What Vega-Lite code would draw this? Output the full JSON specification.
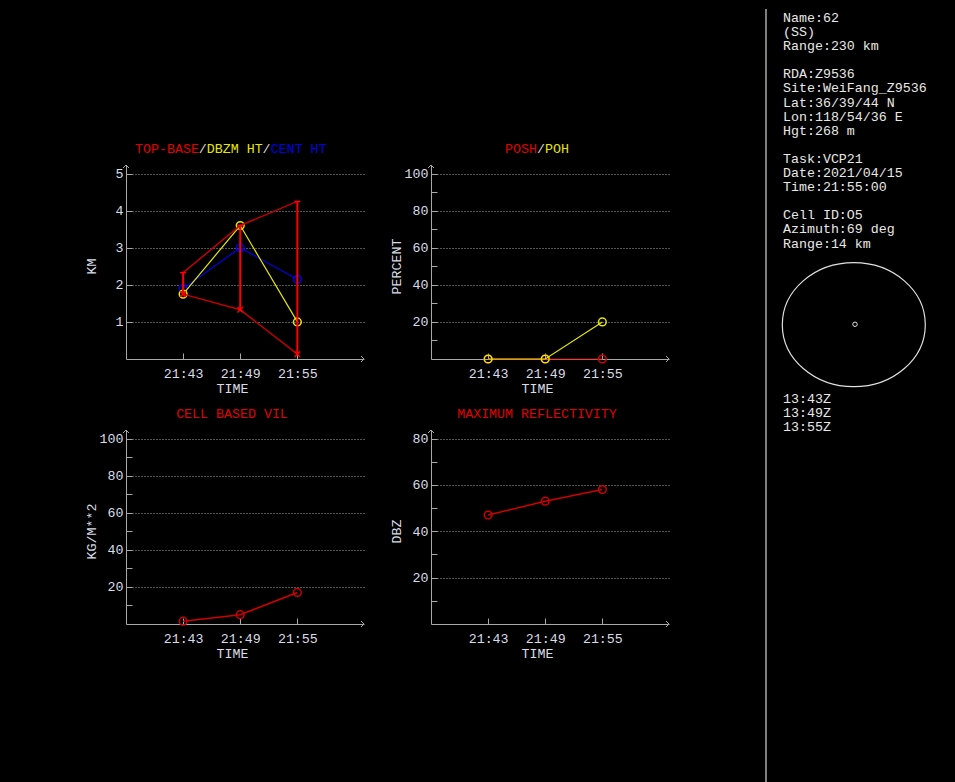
{
  "$schema": "https://vega.github.io/schema/vega-lite/v6.json",
  "background": "black",
  "padding": {"left": 84, "top": 8, "right": 0, "bottom": 0},
  "bounds": "flush",
  "columns": 3,
  "spacing": {"row": 71, "column": 67},
  "datasets": {
    "cells": [
      {"time": "2021-04-15T21:43:00", "top": 2.33, "base": 1.75, "dbzm": 1.75, "cent": 1.9, "posh": 0, "poh": 0, "vil": 1.5, "maxz": 47},
      {"time": "2021-04-15T21:49:00", "top": 3.6, "base": 1.33, "dbzm": 3.6, "cent": 3.0, "posh": 0, "poh": 0, "vil": 5, "maxz": 53},
      {"time": "2021-04-15T21:55:00", "top": 4.25, "base": 0.13, "dbzm": 1.0, "cent": 2.15, "posh": 0, "poh": 20, "vil": 17, "maxz": 58}
    ],
    "report": [
      {"line": 0, "text": "Name:62"},
      {"line": 1, "text": "(SS)"},
      {"line": 2, "text": "Range:230 km"},
      {"line": 4, "text": "RDA:Z9536"},
      {"line": 5, "text": "Site:WeiFang_Z9536"},
      {"line": 6, "text": "Lat:36/39/44 N"},
      {"line": 7, "text": "Lon:118/54/36 E"},
      {"line": 8, "text": "Hgt:268 m"},
      {"line": 10, "text": "Task:VCP21"},
      {"line": 11, "text": "Date:2021/04/15"},
      {"line": 12, "text": "Time:21:55:00"},
      {"line": 14, "text": "Cell ID:O5"},
      {"line": 15, "text": "Azimuth:69 deg"},
      {"line": 16, "text": "Range:14 km"},
      {"line": 27, "text": "13:43Z"},
      {"line": 28, "text": "13:49Z"},
      {"line": 29, "text": "13:55Z"}
    ]
  },
  "config": {
    "view": {"stroke": null},
    "text": {"font": "Liberation Mono", "fontSize": 13.3},
    "axis": {
      "domainColor": "#a8a8a8", "tickColor": "#a8a8a8", "gridColor": "#a8a8a8", "gridDash": [1, 2], "gridWidth": 1,
      "labelFont": "Liberation Mono", "labelFontSize": 13.3, "labelColor": "#d8dce6",
      "titleFont": "Liberation Mono", "titleFontSize": 13.3, "titleColor": "#d8dce6", "titleFontWeight": "normal",
      "tickSize": -6, "labelOverlap": false, "labelFlush": false
    },
    "axisX": {"grid": false, "zindex": 1, "labelPadding": 20, "labelBaseline": "middle", "titleX": 106, "titleY": 29, "titleBaseline": "middle", "titleAlign": "center"},
    "axisY": {"grid": true, "tickCount": 20, "format": "d", "labelPadding": 9, "labelAlign": "right", "labelBaseline": "middle", "titleX": -35, "titleY": 101, "titleBaseline": "middle", "titleAlign": "center", "titleAngle": 270}
  },
  "concat": [
    {
      "width": 238, "height": 194,
      "data": {"name": "cells"},
      "layer": [
        {"mark": {"type": "line", "color": "#0000e6", "strokeWidth": 1.2}, "encoding": {
          "x": {"field": "time", "type": "temporal", "scale": {"nice": false, "domain": [{"year": 2021, "month": 4, "date": 15, "hours": 21, "minutes": 37}, {"year": 2021, "month": 4, "date": 15, "hours": 22, "minutes": 2}]}, "axis": {"title": "TIME", "format": "%H:%M", "values": [{"year": 2021, "month": 4, "date": 15, "hours": 21, "minutes": 43}, {"year": 2021, "month": 4, "date": 15, "hours": 21, "minutes": 49}, {"year": 2021, "month": 4, "date": 15, "hours": 21, "minutes": 55}]}},
          "y": {"field": "cent", "type": "quantitative", "title": "KM", "scale": {"domain": [0, 5.232], "nice": false, "zero": false}, "axis": {"values": [1, 2, 3, 4, 5], "format": "d"}}}},
        {"mark": {"type": "point", "shape": "circle", "size": 60, "color": "#0000e6", "filled": false, "strokeWidth": 1.5, "opacity": 1}, "encoding": {"x": {"field": "time", "type": "temporal", "title": "TIME"}, "y": {"field": "cent", "type": "quantitative", "title": "KM"}}},
        {"mark": {"type": "line", "color": "#e6e600", "strokeWidth": 1.2}, "encoding": {"x": {"field": "time", "type": "temporal", "title": "TIME"}, "y": {"field": "dbzm", "type": "quantitative", "title": "KM"}}},
        {"mark": {"type": "point", "shape": "circle", "size": 60, "color": "#e6e600", "filled": false, "strokeWidth": 1.5, "opacity": 1}, "encoding": {"x": {"field": "time", "type": "temporal", "title": "TIME"}, "y": {"field": "dbzm", "type": "quantitative", "title": "KM"}}},
        {"mark": {"type": "line", "color": "#c00000", "strokeWidth": 1.5}, "encoding": {"x": {"field": "time", "type": "temporal", "title": "TIME"}, "y": {"field": "top", "type": "quantitative", "title": "KM"}}},
        {"mark": {"type": "line", "color": "#c00000", "strokeWidth": 1.5}, "encoding": {"x": {"field": "time", "type": "temporal", "title": "TIME"}, "y": {"field": "base", "type": "quantitative", "title": "KM"}}},
        {"mark": {"type": "rule", "color": "#ff0000", "strokeWidth": 2}, "encoding": {"x": {"field": "time", "type": "temporal", "title": "TIME"}, "y": {"field": "top", "type": "quantitative", "title": "KM"}, "y2": {"field": "base"}}},
        {"mark": {"type": "point", "shape": "stroke", "size": 36, "color": "#ff0000", "strokeWidth": 1.5, "opacity": 1}, "encoding": {"x": {"field": "time", "type": "temporal", "title": "TIME"}, "y": {"field": "top", "type": "quantitative", "title": "KM"}}},
        {"mark": {"type": "point", "shape": "M-1,-1L1,1M-1,1L1,-1", "size": 30, "color": "#ff0000", "filled": false, "strokeWidth": 1.5, "opacity": 1}, "encoding": {"x": {"field": "time", "type": "temporal", "title": "TIME"}, "y": {"field": "base", "type": "quantitative", "title": "KM"}}},
        {"data": {"values": [{}]}, "mark": {"type": "point", "shape": "M-1,-1L0,0L-1,1", "size": 36, "color": "#a8a8a8", "filled": false, "strokeWidth": 1, "opacity": 1}, "encoding": {"x": {"datum": {"year": 2021, "month": 4, "date": 15, "hours": 22, "minutes": 2}, "type": "temporal"}, "y": {"datum": 0, "type": "quantitative"}}},
        {"data": {"values": [{}]}, "mark": {"type": "point", "shape": "M-1,1L0,0L1,1", "size": 36, "color": "#a8a8a8", "filled": false, "strokeWidth": 1, "opacity": 1}, "encoding": {"x": {"datum": {"year": 2021, "month": 4, "date": 15, "hours": 21, "minutes": 37}, "type": "temporal"}, "y": {"datum": 5.232, "type": "quantitative"}}},
        {"data": {"values": [{}]}, "mark": {"type": "text", "text": "TOP-BASE", "color": "#e00000", "align": "left", "baseline": "middle"}, "encoding": {"x": {"datum": {"year": 2021, "month": 4, "date": 15, "hours": 21, "minutes": 37, "seconds": 57}, "type": "temporal"}, "y": {"datum": 5.655, "type": "quantitative"}}},
        {"data": {"values": [{}]}, "mark": {"type": "text", "text": "/", "color": "#d8d8d8", "align": "left", "baseline": "middle"}, "encoding": {"x": {"datum": {"year": 2021, "month": 4, "date": 15, "hours": 21, "minutes": 44, "seconds": 39}, "type": "temporal"}, "y": {"datum": 5.655, "type": "quantitative"}}},
        {"data": {"values": [{}]}, "mark": {"type": "text", "text": "DBZM HT", "color": "#e6e600", "align": "left", "baseline": "middle"}, "encoding": {"x": {"datum": {"year": 2021, "month": 4, "date": 15, "hours": 21, "minutes": 45, "seconds": 29}, "type": "temporal"}, "y": {"datum": 5.655, "type": "quantitative"}}},
        {"data": {"values": [{}]}, "mark": {"type": "text", "text": "/", "color": "#d8d8d8", "align": "left", "baseline": "middle"}, "encoding": {"x": {"datum": {"year": 2021, "month": 4, "date": 15, "hours": 21, "minutes": 51, "seconds": 21}, "type": "temporal"}, "y": {"datum": 5.655, "type": "quantitative"}}},
        {"data": {"values": [{}]}, "mark": {"type": "text", "text": "CENT HT", "color": "#0000e6", "align": "left", "baseline": "middle"}, "encoding": {"x": {"datum": {"year": 2021, "month": 4, "date": 15, "hours": 21, "minutes": 52, "seconds": 12}, "type": "temporal"}, "y": {"datum": 5.655, "type": "quantitative"}}}
      ]
    },
    {
      "width": 238, "height": 194,
      "data": {"name": "cells"},
      "layer": [
        {"mark": {"type": "line", "color": "#d00000", "strokeWidth": 1.2}, "encoding": {
          "x": {"field": "time", "type": "temporal", "scale": {"nice": false, "domain": [{"year": 2021, "month": 4, "date": 15, "hours": 21, "minutes": 37}, {"year": 2021, "month": 4, "date": 15, "hours": 22, "minutes": 2}]}, "axis": {"title": "TIME", "format": "%H:%M", "values": [{"year": 2021, "month": 4, "date": 15, "hours": 21, "minutes": 43}, {"year": 2021, "month": 4, "date": 15, "hours": 21, "minutes": 49}, {"year": 2021, "month": 4, "date": 15, "hours": 21, "minutes": 55}]}},
          "y": {"field": "posh", "type": "quantitative", "title": "PERCENT", "scale": {"domain": [0, 104.64], "nice": false, "zero": false}, "axis": {"values": [10, 20, 30, 40, 50, 60, 70, 80, 90, 100], "labelExpr": "datum.value % 20 === 0 ? datum.label : ''", "gridOpacity": {"condition": {"test": "datum.value % 20 !== 0", "value": 0}, "value": 1}}}}},
        {"mark": {"type": "point", "shape": "circle", "size": 60, "color": "#d00000", "filled": false, "strokeWidth": 1.5, "opacity": 1}, "encoding": {"x": {"field": "time", "type": "temporal", "title": "TIME"}, "y": {"field": "posh", "type": "quantitative", "title": "PERCENT"}}},
        {"mark": {"type": "line", "color": "#e6e600", "strokeWidth": 1.2}, "encoding": {"x": {"field": "time", "type": "temporal", "title": "TIME"}, "y": {"field": "poh", "type": "quantitative", "title": "PERCENT"}}},
        {"mark": {"type": "point", "shape": "circle", "size": 60, "color": "#e6e600", "filled": false, "strokeWidth": 1.5, "opacity": 1}, "encoding": {"x": {"field": "time", "type": "temporal", "title": "TIME"}, "y": {"field": "poh", "type": "quantitative", "title": "PERCENT"}}},
        {"data": {"values": [{}]}, "mark": {"type": "point", "shape": "M-1,-1L0,0L-1,1", "size": 36, "color": "#a8a8a8", "filled": false, "strokeWidth": 1, "opacity": 1}, "encoding": {"x": {"datum": {"year": 2021, "month": 4, "date": 15, "hours": 22, "minutes": 2}, "type": "temporal"}, "y": {"datum": 0, "type": "quantitative"}}},
        {"data": {"values": [{}]}, "mark": {"type": "point", "shape": "M-1,1L0,0L1,1", "size": 36, "color": "#a8a8a8", "filled": false, "strokeWidth": 1, "opacity": 1}, "encoding": {"x": {"datum": {"year": 2021, "month": 4, "date": 15, "hours": 21, "minutes": 37}, "type": "temporal"}, "y": {"datum": 104.64, "type": "quantitative"}}},
        {"data": {"values": [{}]}, "mark": {"type": "text", "text": "POSH", "color": "#e00000", "align": "left", "baseline": "middle"}, "encoding": {"x": {"datum": {"year": 2021, "month": 4, "date": 15, "hours": 21, "minutes": 44, "seconds": 46}, "type": "temporal"}, "y": {"datum": 113.1, "type": "quantitative"}}},
        {"data": {"values": [{}]}, "mark": {"type": "text", "text": "/", "color": "#d8d8d8", "align": "left", "baseline": "middle"}, "encoding": {"x": {"datum": {"year": 2021, "month": 4, "date": 15, "hours": 21, "minutes": 48, "seconds": 8}, "type": "temporal"}, "y": {"datum": 113.1, "type": "quantitative"}}},
        {"data": {"values": [{}]}, "mark": {"type": "text", "text": "POH", "color": "#e6e600", "align": "left", "baseline": "middle"}, "encoding": {"x": {"datum": {"year": 2021, "month": 4, "date": 15, "hours": 21, "minutes": 48, "seconds": 58}, "type": "temporal"}, "y": {"datum": 113.1, "type": "quantitative"}}}
      ]
    },
    {
      "width": 219, "height": 194,
      "layer": [
        {"data": {"values": [{}]}, "mark": {"type": "rule", "color": "#ffffff", "strokeWidth": 1},
         "encoding": {"x": {"datum": -2.125, "type": "quantitative", "scale": {"domain": [-5.875, 21.5], "nice": false, "zero": false}, "axis": null}, "y": {"datum": -0.64, "type": "quantitative", "scale": {"domain": [10.426, 24.184], "reverse": true, "nice": false, "zero": false}, "axis": null}, "y2": {"datum": 56}}},
        {"data": {"name": "report"}, "mark": {"type": "text", "align": "left", "baseline": "middle", "color": "#e8e8e8"},
         "encoding": {"x": {"datum": 0, "type": "quantitative"}, "y": {"field": "line", "type": "quantitative"}, "text": {"field": "text", "type": "nominal"}}},
        {"data": {"values": [{}]}, "mark": {"type": "point", "shape": "M-1,0A1,0.867,0,1,1,1,0A1,0.867,0,1,1,-1,0Z", "size": 20449, "color": "#e0e0e0", "filled": false, "strokeWidth": 1.2, "opacity": 1},
         "encoding": {"x": {"datum": 8.85, "type": "quantitative"}, "y": {"datum": 21.75, "type": "quantitative"}}},
        {"data": {"values": [{}]}, "mark": {"type": "point", "shape": "circle", "size": 20, "color": "#e0e0e0", "filled": false, "strokeWidth": 1, "opacity": 1},
         "encoding": {"x": {"datum": 9.0, "type": "quantitative"}, "y": {"datum": 21.72, "type": "quantitative"}}}
      ]
    },
    {
      "width": 238, "height": 194,
      "data": {"name": "cells"},
      "layer": [
        {"mark": {"type": "line", "color": "#d00000", "strokeWidth": 1.5}, "encoding": {
          "x": {"field": "time", "type": "temporal", "scale": {"nice": false, "domain": [{"year": 2021, "month": 4, "date": 15, "hours": 21, "minutes": 37}, {"year": 2021, "month": 4, "date": 15, "hours": 22, "minutes": 2}]}, "axis": {"title": "TIME", "format": "%H:%M", "values": [{"year": 2021, "month": 4, "date": 15, "hours": 21, "minutes": 43}, {"year": 2021, "month": 4, "date": 15, "hours": 21, "minutes": 49}, {"year": 2021, "month": 4, "date": 15, "hours": 21, "minutes": 55}]}},
          "y": {"field": "vil", "type": "quantitative", "title": "KG/M**2", "scale": {"domain": [0, 104.64], "nice": false, "zero": false}, "axis": {"values": [10, 20, 30, 40, 50, 60, 70, 80, 90, 100], "labelExpr": "datum.value % 20 === 0 ? datum.label : ''", "gridOpacity": {"condition": {"test": "datum.value % 20 !== 0", "value": 0}, "value": 1}}}}},
        {"mark": {"type": "point", "shape": "circle", "size": 60, "color": "#d00000", "filled": false, "strokeWidth": 1.5, "opacity": 1}, "encoding": {"x": {"field": "time", "type": "temporal", "title": "TIME"}, "y": {"field": "vil", "type": "quantitative", "title": "KG/M**2"}}},
        {"data": {"values": [{}]}, "mark": {"type": "point", "shape": "M-1,-1L0,0L-1,1", "size": 36, "color": "#a8a8a8", "filled": false, "strokeWidth": 1, "opacity": 1}, "encoding": {"x": {"datum": {"year": 2021, "month": 4, "date": 15, "hours": 22, "minutes": 2}, "type": "temporal"}, "y": {"datum": 0, "type": "quantitative"}}},
        {"data": {"values": [{}]}, "mark": {"type": "point", "shape": "M-1,1L0,0L1,1", "size": 36, "color": "#a8a8a8", "filled": false, "strokeWidth": 1, "opacity": 1}, "encoding": {"x": {"datum": {"year": 2021, "month": 4, "date": 15, "hours": 21, "minutes": 37}, "type": "temporal"}, "y": {"datum": 104.64, "type": "quantitative"}}},
        {"data": {"values": [{}]}, "mark": {"type": "text", "text": "CELL BASED VIL", "color": "#e00000", "align": "center", "baseline": "middle"}, "encoding": {"x": {"datum": {"year": 2021, "month": 4, "date": 15, "hours": 21, "minutes": 48, "seconds": 8}, "type": "temporal"}, "y": {"datum": 113.2, "type": "quantitative"}}}
      ]
    },
    {
      "width": 238, "height": 194,
      "data": {"name": "cells"},
      "layer": [
        {"mark": {"type": "line", "color": "#d00000", "strokeWidth": 1.5}, "encoding": {
          "x": {"field": "time", "type": "temporal", "scale": {"nice": false, "domain": [{"year": 2021, "month": 4, "date": 15, "hours": 21, "minutes": 37}, {"year": 2021, "month": 4, "date": 15, "hours": 22, "minutes": 2}]}, "axis": {"title": "TIME", "format": "%H:%M", "values": [{"year": 2021, "month": 4, "date": 15, "hours": 21, "minutes": 43}, {"year": 2021, "month": 4, "date": 15, "hours": 21, "minutes": 49}, {"year": 2021, "month": 4, "date": 15, "hours": 21, "minutes": 55}]}},
          "y": {"field": "maxz", "type": "quantitative", "title": "DBZ", "scale": {"domain": [0, 83.71], "nice": false, "zero": false}, "axis": {"values": [10, 20, 30, 40, 50, 60, 70, 80], "labelExpr": "datum.value % 20 === 0 ? datum.label : ''", "gridOpacity": {"condition": {"test": "datum.value % 20 !== 0", "value": 0}, "value": 1}}}}},
        {"mark": {"type": "point", "shape": "circle", "size": 60, "color": "#d00000", "filled": false, "strokeWidth": 1.5, "opacity": 1}, "encoding": {"x": {"field": "time", "type": "temporal", "title": "TIME"}, "y": {"field": "maxz", "type": "quantitative", "title": "DBZ"}}},
        {"data": {"values": [{}]}, "mark": {"type": "point", "shape": "M-1,-1L0,0L-1,1", "size": 36, "color": "#a8a8a8", "filled": false, "strokeWidth": 1, "opacity": 1}, "encoding": {"x": {"datum": {"year": 2021, "month": 4, "date": 15, "hours": 22, "minutes": 2}, "type": "temporal"}, "y": {"datum": 0, "type": "quantitative"}}},
        {"data": {"values": [{}]}, "mark": {"type": "point", "shape": "M-1,1L0,0L1,1", "size": 36, "color": "#a8a8a8", "filled": false, "strokeWidth": 1, "opacity": 1}, "encoding": {"x": {"datum": {"year": 2021, "month": 4, "date": 15, "hours": 21, "minutes": 37}, "type": "temporal"}, "y": {"datum": 83.71, "type": "quantitative"}}},
        {"data": {"values": [{}]}, "mark": {"type": "text", "text": "MAXIMUM REFLECTIVITY", "color": "#e00000", "align": "center", "baseline": "middle"}, "encoding": {"x": {"datum": {"year": 2021, "month": 4, "date": 15, "hours": 21, "minutes": 48, "seconds": 8}, "type": "temporal"}, "y": {"datum": 90.6, "type": "quantitative"}}}
      ]
    }
  ]
}
